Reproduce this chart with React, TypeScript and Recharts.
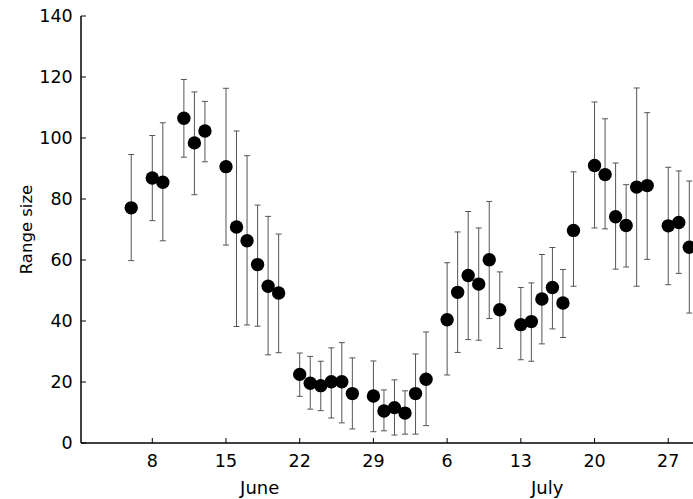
import { ScatterChart, Scatter, XAxis, YAxis, ErrorBar } from 'recharts';

// day of the season, counted from 1 June (so 6 July = 36)
const days = [6, 8, 9, 11, 12, 13, 15, 16, 17, 18, 19, 20, 22, 23, 24, 25, 26, 27, 29, 30, 31, 32, 33, 34, 36, 37, 38, 39, 40, 41, 43, 44, 45, 46, 47, 48, 50, 51, 52, 53, 54, 55, 57, 58, 59];
const means = [77.1, 86.9, 85.5, 106.5, 98.4, 102.3, 90.6, 70.8, 66.3, 58.5, 51.4, 49.2, 22.5, 19.6, 18.8, 20.1, 20.1, 16.2, 15.4, 10.5, 11.6, 9.8, 16.2, 20.9, 40.4, 49.4, 54.9, 52.1, 60.1, 43.7, 38.8, 39.8, 47.2, 51.0, 45.9, 69.7, 91.0, 88.0, 74.2, 71.3, 83.9, 84.4, 71.2, 72.3, 64.2];
const lows = [59.8, 72.9, 66.3, 93.7, 81.4, 92.2, 64.9, 38.2, 38.7, 38.3, 28.9, 29.6, 15.3, 11.1, 10.6, 8.2, 6.6, 4.6, 3.7, 4.0, 2.6, 2.9, 2.9, 5.7, 22.3, 29.7, 33.9, 33.7, 40.8, 31.0, 27.3, 26.8, 32.5, 37.4, 34.6, 51.4, 70.5, 70.2, 57.0, 57.7, 51.4, 60.2, 51.9, 55.6, 42.6];
const highs = [94.6, 100.8, 105.0, 119.2, 115.1, 112.0, 116.3, 102.3, 94.2, 78.0, 74.3, 68.5, 29.5, 28.4, 26.8, 31.2, 32.9, 27.9, 26.9, 17.4, 20.7, 17.1, 29.2, 36.4, 59.1, 69.2, 75.9, 70.5, 79.2, 56.1, 51.0, 52.5, 61.8, 64.1, 56.9, 88.9, 111.8, 106.3, 91.8, 84.7, 116.4, 108.3, 90.4, 89.2, 85.9];

const dayTicks = [8, 15, 22, 29, 36, 43, 50, 57];
const dayTickLabels = ['8', '15', '22', '29', '6', '13', '20', '27'];
const monthTicks = [18.2, 45.5];
const monthLabels = ['June', 'July'];
const yTicks = [0, 20, 40, 60, 80, 100, 120, 140];

const rows = days.map((day, i) => ({
  day,
  mean: means[i],
  err: [means[i] - lows[i], highs[i] - means[i]],
}));

const font = 'DejaVu Sans';

const Dot = (props: { cx?: number; cy?: number }) => (
  <circle cx={props.cx} cy={props.cy} r={6.7} fill="#000" />
);

export default function App() {
  return (
    <div style={{ position: 'absolute', left: 0, top: 0 }}>
      <ScatterChart width={693} height={499} margin={{ top: 16, right: 0, bottom: 0, left: 0 }}>
        <XAxis
          type="number"
          dataKey="day"
          domain={[1.23, 59.35]}
          allowDataOverflow
          ticks={dayTicks}
          interval={0}
          tickFormatter={(v: number) => dayTickLabels[dayTicks.indexOf(v)]}
          height={30}
          tickSize={-5}
          tickMargin={16.5}
          axisLine={{ stroke: '#000', strokeWidth: 1.5 }}
          tickLine={{ stroke: '#000', strokeWidth: 1 }}
          tick={{ fill: '#000', fontSize: 17.5, fontFamily: font }}
        />
        <XAxis
          xAxisId="month"
          type="number"
          dataKey="day"
          domain={[1.23, 59.35]}
          allowDataOverflow
          ticks={monthTicks}
          interval={0}
          tickFormatter={(v: number) => monthLabels[monthTicks.indexOf(v)]}
          height={26}
          tickSize={0}
          tickMargin={8}
          axisLine={false}
          tickLine={false}
          tick={{ fill: '#000', fontSize: 18, fontFamily: font }}
        />
        <YAxis
          type="number"
          dataKey="mean"
          domain={[0, 140]}
          ticks={yTicks}
          interval={0}
          width={81}
          tickSize={-5}
          tickMargin={13.3}
          axisLine={{ stroke: '#000', strokeWidth: 1.5 }}
          tickLine={{ stroke: '#000', strokeWidth: 1 }}
          tick={{ fill: '#000', fontSize: 17.5, fontFamily: font }}
          label={{
            value: 'Range size',
            angle: -90,
            position: 'insideLeft',
            offset: 26.5,
            style: { textAnchor: 'middle', fill: '#000', fontSize: 16.5, fontFamily: font },
          }}
        />
        <Scatter data={rows} shape={<Dot />} isAnimationActive={false}>
          <ErrorBar dataKey="err" direction="y" width={3} stroke="#555" strokeWidth={1} />
        </Scatter>
      </ScatterChart>
    </div>
  );
}
